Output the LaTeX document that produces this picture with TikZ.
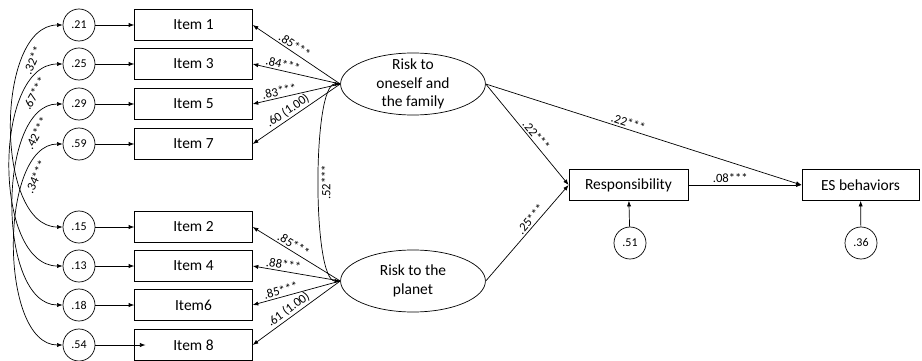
\documentclass[tikz,border=0pt]{standalone}
\usepackage{fontspec}
\setmainfont{Carlito}
\usetikzlibrary{arrows.meta, shapes.geometric}

\tikzset{
  item/.style={draw, minimum width=2.94cm, minimum height=0.77cm, inner sep=0pt, font=\fontsize{11}{13}\selectfont},
  err/.style={draw, circle, minimum size=0.8cm, inner sep=0pt, font=\fontsize{8.5}{10}\selectfont},
  latent/.style={draw, ellipse, minimum width=3.62cm, minimum height=1.55cm, inner sep=0pt},
  lab/.style={font=\fontsize{9}{10}\selectfont, inner sep=1.2pt, sloped},
  covlab/.style={lab, below, inner sep=3pt}
}

\begin{document}
\begin{tikzpicture}[x=0.025cm, y=-0.025cm, >={Latex[length=4pt,width=3pt]}, line width=0.5pt]
\useasboundingbox (0,0) rectangle (922,361);

% items with their errors
\foreach \n/\t/\e/\y in {1/Item 1/.21/25, 3/Item 3/.25/64, 5/Item 5/.29/104, 7/Item 7/.59/144,
                         2/Item 2/.15/227, 4/Item 4/.13/266, 6/Item6/.18/305, 8/Item 8/.54/345}{
  \node[item] (i\n) at (193.5,\y) {\t};
  \node[err] (e\n) at (79,\y) {\e};
}
\foreach \n in {1,...,7}
  \draw[->] (e\n) -- (i\n);
\draw[->, shorten >=-8] (e8) -- (i8);

% latent factors
\node[latent] (risk1) at (413,84) {};
\node[align=center, font=\fontsize{11}{13}\selectfont] at (risk1) {Risk to\\oneself and\\the family};
\node[latent] (risk2) at (413,281) {};
\node[align=center, font=\fontsize{11}{13}\selectfont] at (risk2) {Risk to the\\planet};

\node[item, minimum width=2.975cm] (resp) at (628.5,185) {Responsibility};
\node[item, minimum width=2.925cm] (esb) at (860.5,185) {ES behaviors};
\node[err] (d1) at (630,243) {.51};
\node[err] (d2) at (861,243) {.36};

% loadings
\draw[->] (risk1.west) -- node[lab, above, pos=.56] {.85***} (i1.east);
\draw[->] (risk1.west) -- node[lab, above, pos=.67] {.84***} (i3.east);
\draw[->] (risk1.west) -- node[lab, above, pos=.68] {.83***} (i5.east);
\draw[->] (risk1.west) -- node[lab, above, pos=.55] {.60 (1.00)} (i7.east);
\draw[->] (risk2.west) -- node[lab, above, pos=.57] {.85***} (i2.east);
\draw[->] (risk2.west) -- node[lab, above, pos=.66] {.88***} (i4.east);
\draw[->] (risk2.west) -- node[lab, above, pos=.66] {.85***} (i6.east);
\draw[->] (risk2.west) -- node[lab, above, pos=.54] {.61 (1.00)} (i8.east);

% error covariances
\draw[<->] (e1.west) .. controls +(-68,0) and +(-68,0) .. node[covlab, pos=.25] {.32**} (e2.west);
\draw[<->] (e3.west) .. controls +(-70,0) and +(-70,0) .. node[covlab, pos=.22] {.67***} (e4.west);
\draw[<->] (e5.west) .. controls +(-66,0) and +(-66,0) .. node[covlab, pos=.22] {.42***} (e6.west);
\draw[<->] (e7.west) .. controls +(-64,0) and +(-64,0) .. node[covlab, pos=.24] {.34***} (e8.west);
\draw[<->] (risk2.west) .. controls +(-28,0) and +(-28,0) .. node[lab, below, pos=.5] {.52***} (risk1.west);

% structural paths
\draw[->] (risk1.east) -- node[lab, above, pos=.445] {.22***} (esb.west);
\draw[->] (risk1.east) -- node[lab, above, pos=.55] {.22***} (resp.west);
\draw[->] (risk2.east) -- node[lab, above, pos=.6] {.25***} (resp.west);
\draw[->] (resp) -- node[lab, above, pos=.37] {.08***} (esb);
\draw[->] (d1) -- (resp);
\draw[->] (d2) -- (esb);

\end{tikzpicture}
\end{document}
